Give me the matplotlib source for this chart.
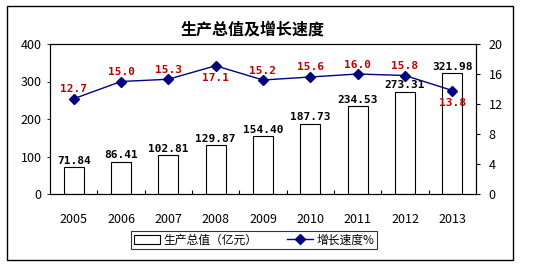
import matplotlib
matplotlib.use("Agg")
import matplotlib.pyplot as plt
from matplotlib.patches import Rectangle
from matplotlib.lines import Line2D

plt.rcParams['font.family'] = ['Noto Sans CJK SC', 'DejaVu Sans']

years = ['2005', '2006', '2007', '2008', '2009', '2010', '2011', '2012', '2013']
gdp = [71.84, 86.41, 102.81, 129.87, 154.40, 187.73, 234.53, 273.31, 321.98]
growth = [12.7, 15.0, 15.3, 17.1, 15.2, 15.6, 16.0, 15.8, 13.8]
below = [False, False, False, True, False, False, False, False, True]

fig = plt.figure(figsize=(5.56, 2.66), dpi=100)
fig.patches.append(Rectangle((7 / 556, 6 / 266), 506 / 556, 254 / 266,
                             transform=fig.transFigure, fill=False,
                             edgecolor='black', linewidth=1.0))

ax = fig.add_axes([50 / 556, 72 / 266, 426 / 556, 150 / 266])
x = [i + 0.5 for i in range(len(years))]
ax.bar(x, gdp, width=0.42, facecolor='white', edgecolor='black', linewidth=0.8, zorder=2)
for xi, v in zip(x, gdp):
    ax.text(xi, v + 4, f'{v:.2f}', ha='center', va='bottom', fontsize=8,
            fontweight='bold', family='DejaVu Sans Mono', zorder=5)
ax.set_xlim(0, len(years))
ax.set_ylim(0, 400)
ax.set_yticks([0, 100, 200, 300, 400])
ax.set_xticks(range(1, len(years)))
ax.set_xticklabels([])
ax.tick_params(axis='x', direction='in', length=3, width=0.8)
ax.tick_params(axis='y', direction='out', length=2, width=0.6, labelsize=9, pad=4)
for xi, y in zip(x, years):
    ax.text(xi, -0.17, y, transform=ax.get_xaxis_transform(), ha='center',
            va='center', fontsize=9)
for s in ax.spines.values():
    s.set_linewidth(0.8)

ax2 = ax.twinx()
ax2.plot(x, growth, color='#000080', linewidth=1.0, marker='D', markersize=5.5,
         markerfacecolor='#000080', markeredgecolor='#000080', zorder=4)
for xi, g, b in zip(x, growth, below):
    if b:
        ax2.text(xi, g - 1.0, f'{g:.1f}', ha='center', va='top', fontsize=8,
                 fontweight='bold', color='#c00000', family='DejaVu Sans Mono')
    else:
        ax2.text(xi, g + 0.6, f'{g:.1f}', ha='center', va='bottom', fontsize=8,
                 fontweight='bold', color='#c00000', family='DejaVu Sans Mono')
ax2.set_ylim(0, 20)
ax2.set_yticks([0, 4, 8, 12, 16, 20])
ax2.tick_params(axis='y', direction='out', length=3, width=0.8, labelsize=9, pad=6)

fig.text(253 / 556, 1 - 30 / 266, '生产总值及增长速度', ha='center', va='center',
         fontsize=11.5, fontweight='bold')

handles = [Rectangle((0, 0), 1, 1, facecolor='white', edgecolor='black', linewidth=0.8),
           Line2D([0], [0], color='#000080', marker='D', markersize=5, linewidth=1.0)]
leg = fig.legend(handles, ['生产总值（亿元）', '增长速度%'], loc='center',
                 bbox_to_anchor=(254 / 556, 1 - 240 / 266), ncol=2, fontsize=8.5,
                 frameon=True, fancybox=False, edgecolor='black', borderpad=0.2,
                 handlelength=2.2, columnspacing=2.5, handletextpad=0.3)
leg.get_frame().set_linewidth(0.8)

fig.savefig('out.png', dpi=100)
